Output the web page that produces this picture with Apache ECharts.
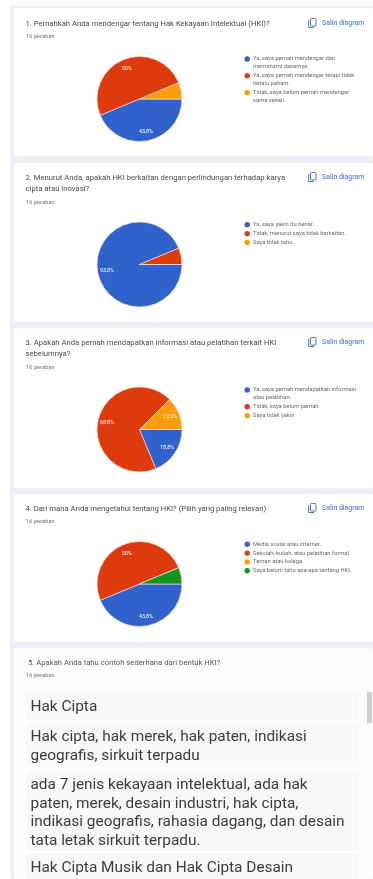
<!DOCTYPE html>
<html lang="id">
<head>
<meta charset="utf-8">
<title>Ringkasan jawaban HKI</title>
<style>
  html, body { margin: 0; padding: 0; background: #fff; }
  #chart { width: 373px; height: 879px; }
</style>
<script src="https://cdn.jsdelivr.net/npm/echarts@6/dist/echarts.min.js"></script>
</head>
<body>
<div id="chart"></div>
<script>
// Jumlah jawaban per pilihan (16 responden)
const q1Names = ['Ya, saya pernah mendengar dan\nmemahami dasarnya.', 'Ya, saya pernah mendengar tetapi tidak\nterlalu paham.', 'Tidak, saya belum pernah mendengar\nsama sekali.'];
const q1Values = [7, 8, 1];
const q2Names = ['Ya, saya yakin itu benar.', 'Tidak, menurut saya tidak berkaitan.', 'Saya tidak tahu.'];
const q2Values = [15, 1, 0];
const q3Names = ['Ya, saya pernah mendapatkan informasi\natau pelatihan.', 'Tidak, saya belum pernah.', 'Saya tidak yakin'];
const q3Values = [3, 11, 2];
const q4Names = ['Media sosial atau internet.', 'Sekolah, kuliah, atau pelatihan formal.', 'Teman atau kolega.', 'Saya belum tahu apa-apa tentang HKI.'];
const q4Values = [7, 8, 0, 1];

const sliceColors = ['#2f63cb', '#dd3a0e', '#fb9c0a', '#109618'];

const answerCount = '16 jawaban';
const copyLabel = 'Salin diagram';
const questionTitles = [
  '1. Pemahkah Anda mendengar tentang Hak Kekayaan Intelektual (HKI)?',
  '2. Menurut Anda, apakah HKI berkaitan dengan perlindungan terhadap karya\ncipta atau inovasi?',
  '3. Apakah Anda pernah mendapatkan informasi atau pelatihan terkait HKI\nsebelumnya?',
  '4. Dari mana Anda mengetahui tentang HKI? (Pilih yang paling relevan)',
  '5. Apakah Anda tahu contoh sederhana dari bentuk HKI?'
];
const openAnswers = [
  'Hak Cipta',
  'Hak cipta, hak merek, hak paten, indikasi\ngeografis, sirkuit terpadu',
  'ada 7 jenis kekayaan intelektual, ada hak\npaten, merek, desain industri, hak cipta,\nindikasi geografis, rahasia dagang, dan desain\ntata letak sirkuit terpadu.',
  'Hak Cipta Musik dan Hak Cipta Desain'
];

// Tata letak tiap kartu pertanyaan
const FONT = 'Roboto, "Noto Sans", sans-serif';
const cards = [
  { top: 8, bottom: 156, titleY: 24, subY: 37, copyY: 23, cy: 99, legendY: 59, names: q1Names, values: q1Values },
  { top: 163, bottom: 322, titleY: 178, subY: 203, copyY: 177, cy: 264.5, legendY: 224.8, names: q2Names, values: q2Values },
  { top: 328, bottom: 488, titleY: 343, subY: 368, copyY: 342, cy: 429.5, legendY: 390, names: q3Names, values: q3Values },
  { top: 494, bottom: 642, titleY: 509, subY: 522, copyY: 508, cy: 584, legendY: 544.3, names: q4Names, values: q4Values }
];
const PIE_CX = 139.5;
const PIE_R = 42.5;
const LEGEND_LINE = 8;
const LEGEND_GAP = 0.8;

function percentLabel(p) {
  if (p.percent < 10) return '';
  return p.percent.toFixed(1).replace('.0', '').replace('.', ',') + '%';
}

function toData(names, values) {
  return names.map((name, i) => ({ name, value: values[i], itemStyle: { color: sliceColors[i] } }));
}

const series = [];
const graphics = [];

function text(x, y, str, size, fill, weight, lineHeight) {
  graphics.push({
    type: 'text', silent: true, z: 5,
    style: { x, y, text: str, fill, fontFamily: FONT, fontSize: size, fontWeight: weight || 400,
             lineHeight: lineHeight || size * 1.2, verticalAlign: 'middle', textVerticalAlign: 'middle' }
  });
}

// Latar halaman dan kartu
graphics.push({ type: 'rect', silent: true, z: 0, shape: { x: 10, y: 0, width: 363, height: 879 }, style: { fill: '#eeedf8' } });
graphics.push({ type: 'rect', silent: true, z: 0, shape: { x: 10, y: 0, width: 363, height: 6 }, style: { fill: '#fbfbfe' } });

cards.forEach((c, i) => {
  graphics.push({ type: 'rect', silent: true, z: 1, shape: { x: 14, y: c.top, width: 359, height: c.bottom - c.top, r: 2 }, style: { fill: '#ffffff' } });
  text(25.5, c.titleY + (questionTitles[i].includes('\n') ? 5.5 : 0), questionTitles[i], 7.7, '#4a4a4a', 400, 11);
  text(26, c.subY, answerCount, 5.6, '#777777');
  text(322, c.copyY, copyLabel, 6.9, '#5f86cf', 500);
  // ikon salin
  graphics.push({ type: 'rect', silent: true, z: 5, shape: { x: 310.5, y: c.copyY - 4.5, width: 5.5, height: 7.5, r: 0.8 }, style: { fill: 'none', stroke: '#4a78cc', lineWidth: 1 } });
  graphics.push({ type: 'polyline', silent: true, z: 5, shape: { points: [[308.7, c.copyY - 3], [308.7, c.copyY + 4.5], [314, c.copyY + 4.5]] }, style: { fill: 'none', stroke: '#4a78cc', lineWidth: 1 } });

  series.push({
    type: 'pie', center: [PIE_CX, c.cy], radius: [0, PIE_R], startAngle: 0, clockwise: true,
    animation: false, silent: true, percentPrecision: 2, z: 3,
    label: { show: false }, labelLine: { show: false },
    itemStyle: { borderColor: '#f6d8d0', borderWidth: 0.7 },
    data: toData(c.names, c.values)
  });
  // Cincin transparan: menempatkan label persentase dekat tepi irisan
  series.push({
    type: 'pie', center: [PIE_CX, c.cy], radius: [PIE_R * 0.42, PIE_R], startAngle: 0, clockwise: true,
    animation: false, silent: true, percentPrecision: 2, z: 4,
    itemStyle: { color: 'transparent', borderWidth: 0 },
    label: { show: true, position: 'inside', formatter: percentLabel, color: '#ffffff', fontSize: 5.4, fontFamily: FONT },
    labelLine: { show: false },
    data: c.names.map((name, k) => ({ name, value: c.values[k], itemStyle: { color: 'transparent' } }))
  });

  // Legenda: titik sejajar dengan baris pertama tiap keterangan
  let y = c.legendY;
  c.names.forEach((name, k) => {
    const lines = name.split('\n');
    graphics.push({ type: 'circle', silent: true, z: 5, shape: { cx: 247.2, cy: y, r: 2.7 }, style: { fill: sliceColors[k] } });
    lines.forEach((line, n) => text(253, y + n * LEGEND_LINE, line, 5.8, '#6b6b6b'));
    y += lines.length * LEGEND_LINE + LEGEND_GAP;
  });
});

// Kartu jawaban isian
graphics.push({ type: 'rect', silent: true, z: 1, shape: { x: 14, y: 648, width: 359, height: 231, r: 2 }, style: { fill: '#fdfdfc' } });
text(28, 663, questionTitles[4], 7.7, '#555555');
text(26, 676, answerCount, 5.6, '#777777');
const rowTops = [693, 723, 771, 854];
const rowBottoms = [720, 767, 851, 879];
openAnswers.forEach((ans, i) => {
  graphics.push({ type: 'rect', silent: true, z: 2, shape: { x: 26, y: rowTops[i], width: 333, height: rowBottoms[i] - rowTops[i] }, style: { fill: '#f7f8f8' } });
  const lines = ans.split('\n').length;
  text(30.5, rowTops[i] + 14.5 + (lines - 1) * 9.2, ans, 15.4, '#3c3c3c', 400, 18.4);
});
graphics.push({ type: 'rect', silent: true, z: 2, shape: { x: 367, y: 692, width: 5, height: 31 }, style: { fill: '#cfcfcf' } });

const chart = echarts.init(document.getElementById('chart'));
chart.setOption({
  animation: false,
  backgroundColor: '#ffffff',
  series,
  graphic: { elements: graphics }
});
</script>
</body>
</html>
